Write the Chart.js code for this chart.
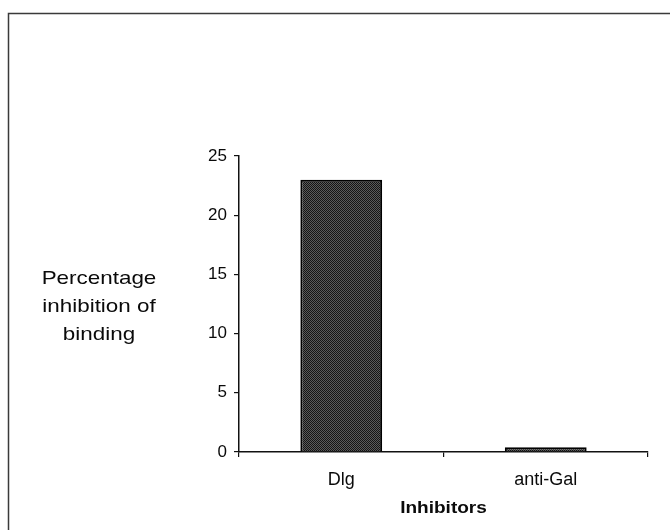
<!DOCTYPE html>
<html>
<head>
<meta charset="utf-8">
<script src="https://cdn.jsdelivr.net/npm/chart.js@4/dist/chart.umd.min.js"></script>
<style>
  html, body { margin: 0; padding: 0; background: #fff; }
  #wrap { width: 670px; height: 530px; }
</style>
</head>
<body>
<div id="wrap"><canvas id="c" width="670" height="530"></canvas></div>
<script>
// Inhibition of binding by each inhibitor (%)
const categories = ['Dlg', 'anti-Gal'];
const inhibition = [23.0, 0.4];
const yTicks = [0, 5, 10, 15, 20, 25];
const yTitleLines = ['Percentage', 'inhibition of', 'binding'];
const xTitle = 'Inhibitors';

const FONT = '"Liberation Sans", Arial, Helvetica, sans-serif';

// dithered dark grey fill for the bars
function makeDither() {
  const p = document.createElement('canvas');
  p.width = 2; p.height = 2;
  const g = p.getContext('2d');
  g.fillStyle = '#5a5a5a'; g.fillRect(0, 0, 2, 2);
  g.fillStyle = '#141414'; g.fillRect(0, 0, 1, 1); g.fillRect(1, 1, 1, 1);
  return g.createPattern(p, 'repeat');
}

function drawStretched(ctx, text, x, y, font, sx) {
  ctx.save();
  ctx.font = font;
  ctx.textAlign = 'center';
  ctx.textBaseline = 'alphabetic';
  ctx.fillStyle = '#0a0a0a';
  ctx.translate(x, y);
  ctx.scale(sx, 1);
  ctx.fillText(text, 0, 0);
  ctx.restore();
}

// outer frame and the free-standing titles
const decorations = {
  id: 'decorations',
  beforeDraw(chart) {
    const ctx = chart.ctx;
    ctx.save();
    ctx.fillStyle = '#fff';
    ctx.fillRect(0, 0, chart.width, chart.height);
    ctx.strokeStyle = '#3a3a3a';
    ctx.lineWidth = 1.5;
    ctx.strokeRect(8.5, 13.5, 700, 560);
    ctx.restore();
  },
  afterDraw(chart) {
    const ctx = chart.ctx;
    const area = chart.chartArea;
    yTitleLines.forEach((t, i) => {
      drawStretched(ctx, t, 99, 284 + i * 28, '19px ' + FONT, 1.18);
    });
    drawStretched(ctx, xTitle, (area.left + area.right) / 2, 513, 'bold 17px ' + FONT, 1.12);
  }
};

new Chart(document.getElementById('c'), {
  type: 'bar',
  data: {
    labels: categories,
    datasets: [{
      data: inhibition,
      backgroundColor: makeDither(),
      borderColor: '#000',
      borderWidth: 2,
      borderSkipped: 'bottom',
      categoryPercentage: 1.0,
      barPercentage: 0.4
    }]
  },
  options: {
    responsive: false,
    animation: false,
    devicePixelRatio: 1,
    layout: { padding: { left: 199, right: 22, top: 156, bottom: 38 } },
    plugins: { legend: { display: false }, tooltip: { enabled: false } },
    scales: {
      x: {
        offset: true,
        grid: { display: true, drawOnChartArea: false, drawTicks: true, tickLength: 5, color: '#111', offset: true, lineWidth: 1.2 },
        border: { display: true, color: '#111', width: 1.5 },
        ticks: { color: '#0a0a0a', font: { family: FONT, size: 18 }, padding: 12 },
        afterFit(scale) { scale.height = 40; }
      },
      y: {
        min: 0, max: 25,
        afterBuildTicks(scale) { scale.ticks = yTicks.map(v => ({ value: v })); },
        grid: { display: true, drawOnChartArea: false, drawTicks: true, tickLength: 5, color: '#111', lineWidth: 1.2 },
        border: { display: true, color: '#111', width: 1.5 },
        ticks: { color: '#0a0a0a', font: { family: FONT, size: 17 }, padding: 7 },
        afterFit(scale) { scale.width = 40; }
      }
    }
  },
  plugins: [decorations]
});
</script>
</body>
</html>
